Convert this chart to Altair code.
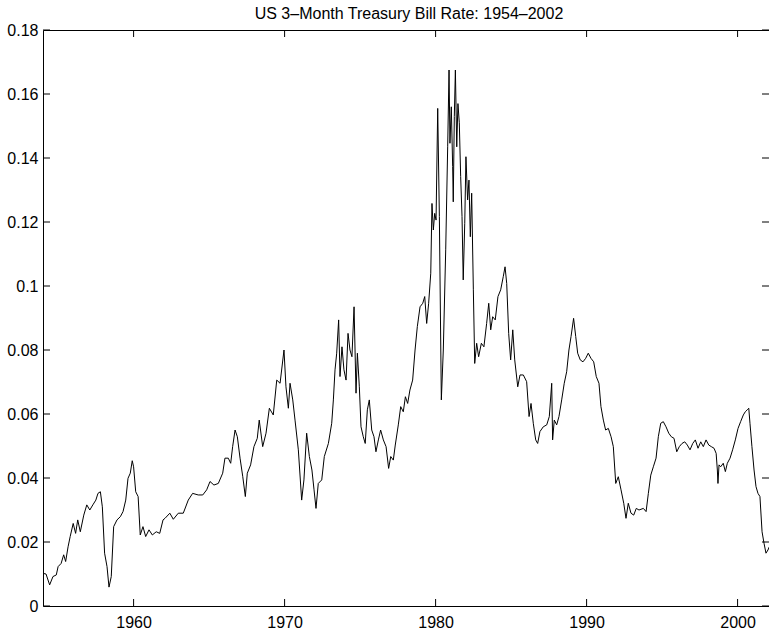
import altair as alt
import pandas as pd

# US 3-month Treasury bill rate (decimal), sampled through time
years = [
    1954.00, 1954.20, 1954.44, 1954.66, 1954.88, 1955.00, 1955.20, 1955.37, 1955.50, 1955.66,
    1955.80, 1956.00, 1956.16, 1956.30, 1956.47, 1956.70, 1956.90, 1957.10, 1957.30, 1957.50,
    1957.64, 1957.80, 1957.93, 1958.08, 1958.24, 1958.37, 1958.52, 1958.68, 1958.90, 1959.12,
    1959.30, 1959.48, 1959.63, 1959.78, 1959.91, 1960.00, 1960.14, 1960.30, 1960.44, 1960.62,
    1960.80, 1961.02, 1961.24, 1961.50, 1961.73, 1961.95,
    1962.08, 1962.40, 1962.63, 1962.96, 1963.29, 1963.62, 1963.91, 1964.28, 1964.58, 1964.84,
    1965.06, 1965.32, 1965.61, 1965.90, 1966.05, 1966.27, 1966.43, 1966.56, 1966.72, 1966.87,
    1967.05, 1967.23, 1967.40, 1967.53, 1967.75, 1967.97, 1968.19, 1968.32, 1968.55, 1968.77,
    1968.99, 1969.25, 1969.48,
    1969.70, 1969.96, 1970.09, 1970.25, 1970.36, 1970.54, 1970.69, 1970.91, 1971.13, 1971.28,
    1971.46, 1971.64, 1971.81, 1971.95, 1972.08, 1972.23, 1972.46, 1972.63, 1972.90, 1973.12,
    1973.23, 1973.34, 1973.45, 1973.58, 1973.67, 1973.80, 1973.93, 1974.07, 1974.20, 1974.33,
    1974.46, 1974.60, 1974.73, 1974.82, 1974.95, 1975.06, 1975.21, 1975.34, 1975.48, 1975.61,
    1975.77, 1975.92, 1976.05, 1976.21, 1976.36, 1976.54, 1976.72, 1976.89, 1977.03, 1977.20,
    1977.33, 1977.53, 1977.69, 1977.86, 1978.00, 1978.15,
    1978.30, 1978.48, 1978.64, 1978.79, 1978.97, 1979.15, 1979.28, 1979.41, 1979.54, 1979.68,
    1979.76, 1979.85, 1979.94, 1980.03, 1980.14, 1980.25, 1980.38, 1980.51, 1980.67, 1980.80,
    1980.89, 1980.95, 1981.04, 1981.13, 1981.17, 1981.24, 1981.31, 1981.40, 1981.48, 1981.57,
    1981.66, 1981.75, 1981.83, 1981.93, 1982.01, 1982.12, 1982.21, 1982.30, 1982.39, 1982.50,
    1982.59, 1982.72, 1982.85, 1983.03, 1983.20, 1983.38, 1983.52, 1983.65, 1983.78, 1983.95,
    1984.13, 1984.31, 1984.48, 1984.60, 1984.71, 1984.84, 1984.97, 1985.11, 1985.24,
    1985.44, 1985.59, 1985.81, 1986.03, 1986.19, 1986.32, 1986.47, 1986.63, 1986.76, 1986.91,
    1987.13, 1987.36, 1987.53, 1987.69, 1987.75, 1987.86, 1988.02, 1988.17, 1988.35, 1988.52,
    1988.68, 1988.83, 1988.97, 1989.14, 1989.28, 1989.41, 1989.58, 1989.76, 1989.94, 1990.11,
    1990.29, 1990.47, 1990.64, 1990.82, 1990.95, 1991.11, 1991.26, 1991.44, 1991.62, 1991.77,
    1991.93, 1992.10, 1992.28, 1992.46, 1992.61, 1992.76, 1992.94, 1993.12, 1993.29, 1993.47,
    1993.76, 1993.94, 1994.09, 1994.25, 1994.42, 1994.60, 1994.75, 1994.91, 1995.08, 1995.26,
    1995.44, 1995.61, 1995.79, 1995.97, 1996.14, 1996.32, 1996.50, 1996.67, 1996.85, 1997.03,
    1997.20, 1997.38, 1997.56, 1997.73, 1997.91, 1998.09, 1998.26, 1998.44, 1998.58, 1998.66,
    1998.70, 1998.77, 1998.88, 1999.05, 1999.19, 1999.32, 1999.50, 1999.67, 1999.85, 2000.03,
    2000.20, 2000.38, 2000.51, 2000.64, 2000.74, 2000.82, 2000.95, 2001.09, 2001.22, 2001.35,
    2001.48, 2001.62, 2001.75, 2001.88, 2002.01, 2002.10,
]

rates = [
    0.0102, 0.0100, 0.0066, 0.0092, 0.0097, 0.0123, 0.0133, 0.0160, 0.0139, 0.0185,
    0.0217, 0.0258, 0.0227, 0.0269, 0.0232, 0.0284, 0.0316, 0.0300, 0.0316, 0.0331,
    0.0352, 0.0357, 0.0310, 0.0165, 0.0123, 0.0059, 0.0092, 0.0248, 0.0269, 0.0279,
    0.0295, 0.0331, 0.0399, 0.0415, 0.0454, 0.0435, 0.0357, 0.0342, 0.0222, 0.0248,
    0.0217, 0.0238, 0.0222, 0.0232, 0.0227, 0.0269,
    0.0274, 0.0290, 0.0271, 0.0290, 0.0290, 0.0331, 0.0352, 0.0347, 0.0347, 0.0363,
    0.0389, 0.0378, 0.0383, 0.0415, 0.0462, 0.0462, 0.0446, 0.0498, 0.0550, 0.0529,
    0.0462, 0.0404, 0.0342, 0.0415, 0.0441, 0.0498, 0.0524, 0.0581, 0.0498, 0.0540,
    0.0618, 0.0597, 0.0706,
    0.0696, 0.0800, 0.0685, 0.0618, 0.0696, 0.0644, 0.0581, 0.0488, 0.0331, 0.0394,
    0.0540, 0.0467, 0.0425, 0.0363, 0.0305, 0.0383, 0.0394, 0.0467, 0.0508, 0.0571,
    0.0644, 0.0738, 0.0790, 0.0894, 0.0717, 0.0810, 0.0738, 0.0706, 0.0852, 0.0800,
    0.0779, 0.0935, 0.0665, 0.0790, 0.0685, 0.0560, 0.0529, 0.0508, 0.0613, 0.0644,
    0.0550, 0.0529, 0.0482, 0.0519, 0.0550, 0.0519, 0.0498, 0.0430, 0.0467, 0.0456,
    0.0503, 0.0566, 0.0623, 0.0607, 0.0654, 0.0633,
    0.0675, 0.0706, 0.0800, 0.0873, 0.0935, 0.0946, 0.0967, 0.0883, 0.0946, 0.1040,
    0.1258, 0.1175, 0.1227, 0.1206, 0.1555, 0.1217, 0.0644, 0.0800, 0.1113, 0.1435,
    0.1675, 0.1446, 0.1560, 0.1373, 0.1263, 0.1530, 0.1675, 0.1435, 0.1570, 0.1510,
    0.1342, 0.1217, 0.1019, 0.1196, 0.1404, 0.1269, 0.1331, 0.1154, 0.1290, 0.0988,
    0.0758, 0.0821, 0.0779, 0.0821, 0.0810, 0.0883, 0.0946, 0.0863, 0.0904, 0.0894,
    0.0967, 0.0988, 0.1029, 0.1060, 0.1008, 0.0852, 0.0769, 0.0863, 0.0769,
    0.0685, 0.0722, 0.0722, 0.0701, 0.0592, 0.0633, 0.0571, 0.0519, 0.0508, 0.0545,
    0.0560, 0.0566, 0.0592, 0.0696, 0.0519, 0.0581, 0.0566, 0.0592, 0.0644, 0.0696,
    0.0732, 0.0800, 0.0842, 0.0899, 0.0842, 0.0790, 0.0769, 0.0763, 0.0774, 0.0790,
    0.0774, 0.0763, 0.0717, 0.0696, 0.0623, 0.0581, 0.0550, 0.0555, 0.0529, 0.0498,
    0.0383, 0.0404, 0.0363, 0.0321, 0.0274, 0.0321, 0.0290, 0.0284, 0.0305, 0.0300,
    0.0305, 0.0295, 0.0352, 0.0409, 0.0435, 0.0462, 0.0529, 0.0571, 0.0576, 0.0560,
    0.0540, 0.0529, 0.0524, 0.0482, 0.0498, 0.0508, 0.0513, 0.0503, 0.0488, 0.0508,
    0.0519, 0.0493, 0.0513, 0.0498, 0.0519, 0.0503, 0.0498, 0.0493, 0.0477, 0.0425,
    0.0383, 0.0441, 0.0435, 0.0446, 0.0420, 0.0446, 0.0462, 0.0488, 0.0519, 0.0555,
    0.0576, 0.0597, 0.0607, 0.0613, 0.0618, 0.0571, 0.0498, 0.0425, 0.0373, 0.0352,
    0.0342, 0.0232, 0.0196, 0.0165, 0.0175, 0.0185,
]

year_ticks = [1960, 1970, 1980, 1990, 2000]
rate_ticks = [0, 0.02, 0.04, 0.06, 0.08, 0.1, 0.12, 0.14, 0.16, 0.18]

W, H = 726, 576
TICK = 7
FONT = "Liberation Sans"

series = pd.DataFrame({"year": years, "rate": rates})
xticks = pd.DataFrame({"year": year_ticks})
yticks = pd.DataFrame({"rate": rate_ticks})

x_scale = alt.Scale(domain=[1954, 2002.08], nice=False, zero=False)
y_scale = alt.Scale(domain=[0, 0.18], nice=False)

x_axis = alt.Axis(values=year_ticks, format="d", title=None, ticks=False, domain=False,
                  grid=False, labelPadding=8, labelFontSize=16, labelFont=FONT,
                  labelColor="black")
y_axis = alt.Axis(values=rate_ticks, format="~g", title=None, ticks=False, domain=False,
                  grid=False, labelPadding=5, labelFontSize=16, labelFont=FONT,
                  labelColor="black")

X = alt.X("year:Q", scale=x_scale, axis=x_axis)
Y = alt.Y("rate:Q", scale=y_scale, axis=y_axis)

line = alt.Chart(series).mark_line(color="black", strokeWidth=1, clip=True).encode(x=X, y=Y)

# inward-pointing ticks on all four sides of the box
tick_style = dict(color="black", strokeWidth=1)
left = alt.Chart(yticks).mark_rule(**tick_style).encode(y=Y, x=alt.value(0), x2=alt.value(TICK))
right = alt.Chart(yticks).mark_rule(**tick_style).encode(y=Y, x=alt.value(W - TICK), x2=alt.value(W))
bottom = alt.Chart(xticks).mark_rule(**tick_style).encode(x=X, y=alt.value(H - TICK), y2=alt.value(H))
top = alt.Chart(xticks).mark_rule(**tick_style).encode(x=X, y=alt.value(0), y2=alt.value(TICK))

chart = (
    alt.layer(line, left, right, bottom, top)
    .properties(
        width=W,
        height=H,
        padding={"left": 43, "top": 30, "right": 0, "bottom": 25},
        autosize=alt.AutoSizeParams(type="none"),
        title=alt.TitleParams(
            text="US 3\u2013Month Treasury Bill Rate: 1954\u20132002",
            font=FONT, fontSize=16, fontWeight="normal", color="black",
            anchor="middle", offset=0, dx=3,
        ),
    )
    .configure(background="white")
    .configure_view(stroke="black", strokeWidth=1)
)

chart.save("out.html", embed_options={"renderer": "svg", "actions": False})
